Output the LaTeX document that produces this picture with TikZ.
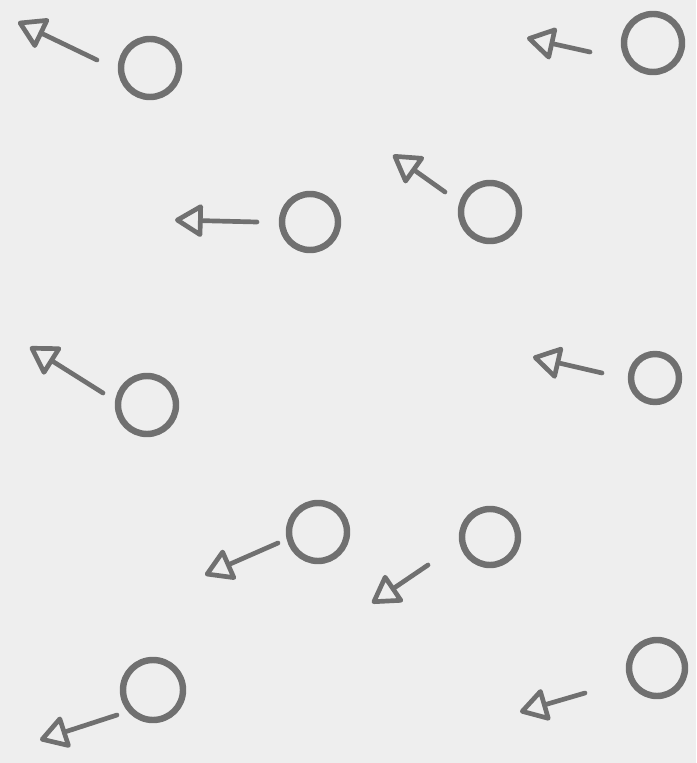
\documentclass[tikz,border=0pt]{standalone}
\usepackage{tikz}
\usetikzlibrary{arrows.meta}
\definecolor{pencil}{RGB}{112,112,112}
\definecolor{paper}{RGB}{238,238,238}

\begin{document}
\begin{tikzpicture}[x=0.03cm,y=-0.03cm]
\tikzset{ring/.style={circle,draw=pencil,line width=5.5pt,inner sep=0pt},
  arr/.style={draw=pencil,line width=4pt,line cap=round,line join=round,
    -{Triangle[open,length=0.9cm,width=1.05cm,line join=round]}}}
% paper
\fill[paper] (0,0) rectangle (696,763);
\useasboundingbox (0,0) rectangle (696,763);
% particles: id / centre / radius / tail / tip
\foreach \n/\cx/\cy/\r/\tx/\ty/\hx/\hy in {
  1/150/68/29/97/60/18/22,
  2/653/43/29/590/52/527/38,
  3/310/222/28/257/222/175/220,
  4/490/212/29/445/192/393/155,
  5/147/405/29/103/393/30/347,
  6/655/378/24/602/373/533/357,
  7/318/532/29/278/543/205/575,
  8/490/537/28/428/565/372/603,
  9/153/690/30/117/715/40/740,
  10/657/668/28/585/693/520/712}{
  \node[ring,minimum size={0.06cm*\r}] (c\n) at (\cx,\cy) {};
  \coordinate (t\n) at (\tx,\ty);
  \coordinate (h\n) at (\hx,\hy);
  \draw[arr] (t\n) -- (h\n);
}
\end{tikzpicture}
\end{document}
